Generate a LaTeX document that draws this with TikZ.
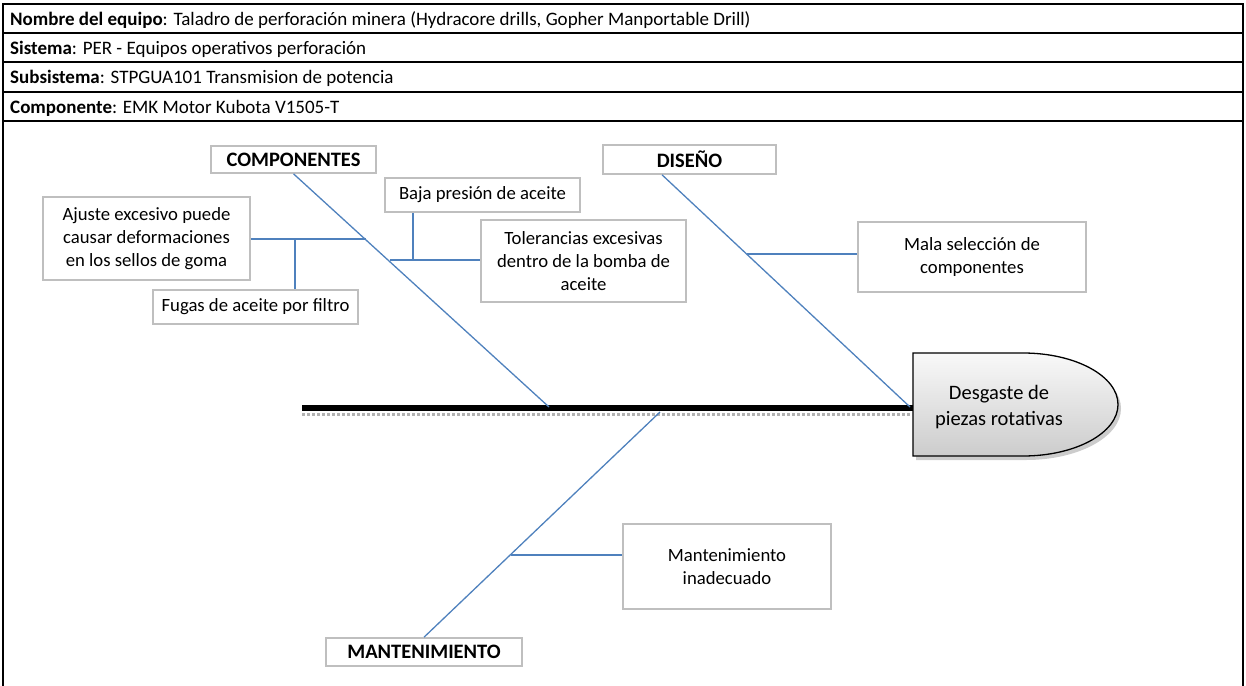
\documentclass[tikz,border=0pt]{standalone}
\usepackage{fontspec}
\setmainfont{Carlito}
\usetikzlibrary{positioning}

\definecolor{bonecol}{HTML}{4F81BD}
\definecolor{boxline}{HTML}{BFBFBF}

\tikzset{
  causebox/.style={draw=boxline, line width=1.6pt, fill=white, align=center,
    inner sep=2pt, font=\fontsize{18.7}{23}\selectfont},
  catbox/.style={draw=boxline, line width=1.6pt, fill=white, align=center,
    inner sep=2pt, font=\fontsize{20.5}{24}\selectfont\bfseries},
  hdr/.style={anchor=west, inner sep=0pt, font=\fontsize{19}{22}\selectfont},
  bone/.style={draw=bonecol, line width=1.3pt},
  twig/.style={draw=bonecol, line width=2pt},
}

\begin{document}
\begin{tikzpicture}[x=1pt, y=-1pt]

        \useasboundingbox (0,0) rectangle (1246,685);

        % Outer frame and header rows
        \draw[line width=1.5pt] (3,690) -- (3,4) -- (1243,4) -- (1243,690);
        \foreach \yy in {33,62,92,121}
            \draw[line width=2.2pt] (3,\yy) -- (1243,\yy);

        \node[hdr] (nombre) at (10,20) {\textbf{Nombre del equipo}: Taladro de perforación minera (Hydracore drills, Gopher Manportable Drill)};
        \node[hdr] (sistema) at (10,49) {\textbf{Sistema}: PER - Equipos operativos perforación};
        \node[hdr] (subsis) at (10,78.5) {\textbf{Subsistema}: STPGUA101 Transmision de potencia};
        \node[hdr] (compo) at (10,108) {\textbf{Componente}: EMK Motor Kubota V1505-T};

        % Spine with its shadow
        \draw[gray!60, dotted, line width=3pt] (302,414.5) -- (912,414.5);
        \coordinate (tail) at (302,407.5);
        \coordinate (nose) at (913,407.5);
        \draw[line width=6pt] (tail) -- (nose);

        % Head (effect)
        \fill[gray!40] (916,357) -- (1026,357) arc[start angle=-90, end angle=90, x radius=95, y radius=51.5] -- (916,460) -- cycle;
        \draw[line width=1.3pt, top color=gray!5, bottom color=gray!40] (913,353) -- (1023,353) arc[start angle=-90, end angle=90, x radius=95, y radius=51.5] -- (913,456) -- cycle;
        \node[align=center, font=\fontsize{20.5}{26}\selectfont] (efecto) at (999,407) {Desgaste de\\piezas rotativas};

        % Category boxes
        \node[catbox, minimum width=165, minimum height=27] (comp) at (293.5,159.5) {COMPONENTES};
        \node[catbox, minimum width=173, minimum height=29] (dise) at (689.5,159.5) {DISEÑO};
        \node[catbox, minimum width=196, minimum height=28] (mant) at (424,652) {MANTENIMIENTO};

        % Main bones
        \coordinate (jcomp) at (549,407);
        \coordinate (jdise) at (910,407);
        \coordinate (jmant) at (660,412);
        \draw[bone] (comp.south) -- (jcomp);
        \draw[bone] (dise.south -| 662,0) -- (jdise);
        \draw[bone] (mant.north) -- (jmant);

        % Cause boxes
        \node[causebox, minimum width=195, minimum height=34] (baja) at (482.5,195) {Baja presión de aceite};
        \node[causebox, minimum width=207, minimum height=83] (ajuste) at (146.5,238.5) {Ajuste excesivo puede\\causar deformaciones\\en los sellos de goma};
        \node[causebox, minimum width=205, minimum height=82] (toler) at (583.5,261) {Tolerancias excesivas\\dentro de la bomba de\\aceite};
        \node[causebox, minimum width=205, minimum height=34] (fugas) at (255.5,307) {Fugas de aceite por filtro};
        \node[causebox, minimum width=228, minimum height=70] (mala) at (972,257) {Mala selección de\\componentes};
        \node[causebox, minimum width=208, minimum height=85] (mantin) at (727,566.5) {Mantenimiento\\inadecuado};

        % Sub-bones
        \coordinate (jajuste) at (365.5,238.5);
        \coordinate (jtoler) at (389.5,260);
        \coordinate (jmala) at (747,254);
        \coordinate (jmantin) at (511,555);
        \draw[twig] (ajuste.east) -- (jajuste);
        \draw[twig] (fugas.north -| 295,0) -- (295,238.5);
        \draw[twig] (jtoler) -- (toler.west |- jtoler);
        \draw[twig] (baja.south -| 413,0) -- (413,260);
        \draw[twig] (jmala) -- (mala.west |- jmala);
        \draw[twig] (jmantin) -- (mantin.west |- jmantin);

\end{tikzpicture}
\end{document}
